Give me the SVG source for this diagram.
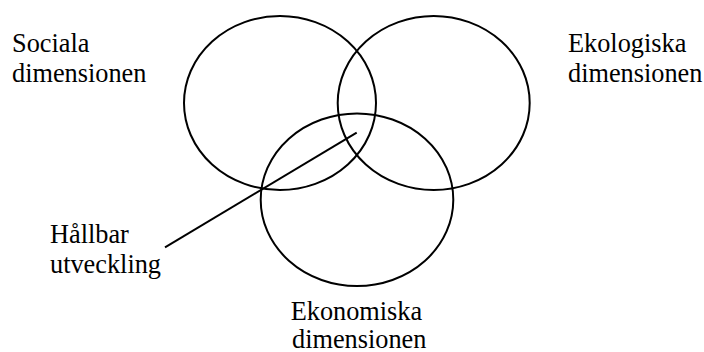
<svg xmlns="http://www.w3.org/2000/svg" width="704" height="352" viewBox="0 0 704 352">
<style>
.c{fill:none;stroke:#000;stroke-width:2}
</style>
<rect width="704" height="352" fill="#fff"/>
<g id="social"><ellipse class="c" cx="280" cy="103" rx="96" ry="87"/></g>
<g id="ekologisk"><ellipse class="c" cx="433.7" cy="103" rx="96" ry="87"/></g>
<g id="ekonomisk"><ellipse class="c" cx="357" cy="199.7" rx="96.3" ry="86.3"/></g>
<g id="connectors"><line x1="165" y1="247.3" x2="356.7" y2="132.7" stroke="#000" stroke-width="2"/></g>
<g font-family="Liberation Serif, DejaVu Serif, serif" font-size="26.3" fill="#000">
<g id="label-social"><text x="12" y="51.5">Sociala</text><text x="12" y="81.5">dimensionen</text></g>
<g id="label-ekologisk"><text x="568" y="52">Ekologiska</text><text x="568" y="82">dimensionen</text></g>
<g id="label-hallbar"><text x="50" y="243">Hållbar</text><text x="50" y="273">utveckling</text></g>
<g id="label-ekonomisk"><text x="290.7" y="320">Ekonomiska</text><text x="292" y="347.5">dimensionen</text></g>
</g>
</svg>
